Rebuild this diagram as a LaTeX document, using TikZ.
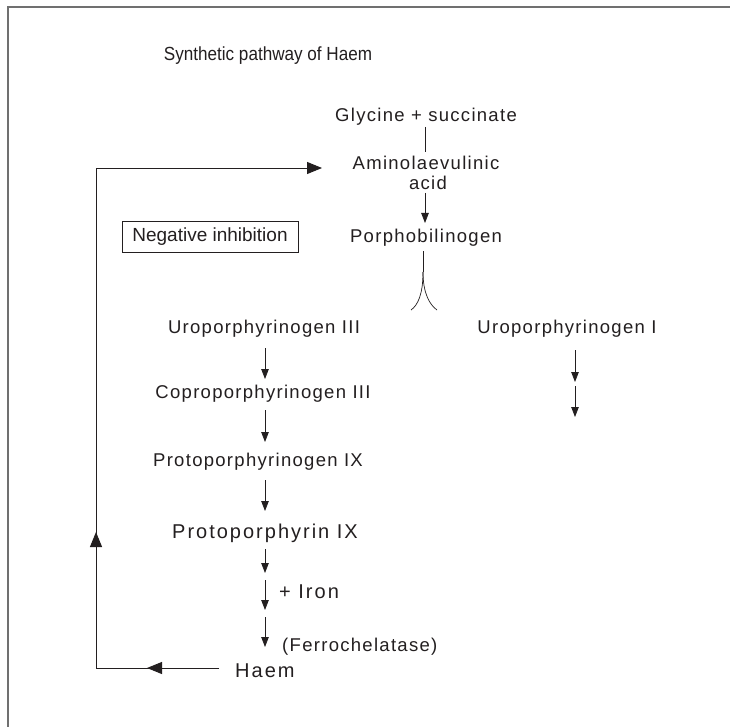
\documentclass[tikz,border=0pt]{standalone}
\usepackage{fontspec}
\setmainfont{Liberation Sans}
\newfontfamily\labfont[LetterSpace=7]{Liberation Sans}
\newfontfamily\widefont[LetterSpace=10]{Liberation Sans}
\newfontfamily\ttlfont[FakeStretch=0.9]{Liberation Sans}
\usetikzlibrary{arrows.meta}
\definecolor{ink}{HTML}{231F20}
\definecolor{framec}{HTML}{707070}
\begin{document}
\begin{tikzpicture}[x=1pt,y=-1pt,
  lab/.style={font={\labfont\fontsize{18.5}{21}\selectfont}, text=ink, inner sep=0pt, anchor=base},
  biglab/.style={font={\widefont\fontsize{20}{22}\selectfont}, text=ink, inner sep=0pt, anchor=base},
  ttl/.style={font={\ttlfont\fontsize{19}{21}\selectfont}, text=ink, inner sep=0pt, anchor=base},
  boxlab/.style={font={\fontsize{19}{21}\selectfont}, text=ink, draw=ink, line width=0.8pt, minimum width=176pt, minimum height=31pt, inner sep=0pt},
  ln/.style={draw=ink, line width=0.7pt},
  arr/.style={draw=ink, line width=0.8pt, -{Triangle[length=10pt,width=7.5pt]}},
  fb/.style={draw=ink, line width=0.95pt},
  fbarr/.style={draw=ink, line width=0.95pt, -{Triangle[length=15pt,width=12pt]}}]
\useasboundingbox (0,0) rectangle (730,727);
\fill[white] (0,0) rectangle (730,727);
% frame
\draw[framec, line width=1.5pt] (8,727) -- (8,7) -- (730,7);
% title
\node[ttl] (title) at (268,61) {Synthetic pathway of Haem};
% central column
\node[lab] (gly) at (426,122) {Glycine + succinate};
\node[lab] (ala) at (426,170) {Aminolaevulinic};
\node[lab] (acid) at (428,190) {acid};
\node[lab] (pbg) at (426,243) {Porphobilinogen};
\node[boxlab] (neg) at (210,236.5) {Negative inhibition};
% main chain
\node[lab] (u3) at (264,333) {Uroporphyrinogen III};
\node[lab] (c3) at (263,398) {Coproporphyrinogen III};
\node[lab] (p9g) at (258,466) {Protoporphyrinogen IX};
\node[biglab] (p9) at (265,538) {Protoporphyrin IX};
\node[biglab, anchor=base west] (iron) at (279,598) {+ Iron};
\node[lab, anchor=base west] (ferro) at (282,651) {(Ferrochelatase)};
\node[biglab, anchor=base west] (haem) at (235,677) {Haem};
% side chain
\node[lab] (u1) at (567,333) {Uroporphyrinogen I};
% connectors in the central column
\coordinate (g1) at (425,127);
\coordinate (g2) at (425,152);
\draw[ln] (g1) -- (g2);
\coordinate (b1) at (425,193);
\coordinate (b2) at (425,223);
\draw[arr] (b1) -- (b2);
% split under porphobilinogen
\coordinate (s0) at (423,251);
\coordinate (s1) at (423,272);
\coordinate (sl) at (411,310);
\coordinate (sr) at (437,310);
\draw[ln] (s0) -- (s1);
\draw[ln] (s1) .. controls (423,294) and (418,305) .. (sl);
\draw[ln] (s1) .. controls (423,294) and (430,305) .. (sr);
% main chain arrows
\coordinate (m1) at (265,348); \coordinate (m2) at (265,379);
\coordinate (m3) at (265,410); \coordinate (m4) at (265,442);
\coordinate (m5) at (265,480); \coordinate (m6) at (265,511);
\coordinate (m7) at (265,549); \coordinate (m8) at (265,573);
\coordinate (m9) at (265,580); \coordinate (m10) at (265,610);
\coordinate (m11) at (265,617); \coordinate (m12) at (265,647);
\draw[arr] (m1) -- (m2);
\draw[arr] (m3) -- (m4);
\draw[arr] (m5) -- (m6);
\draw[arr] (m7) -- (m8);
\draw[arr] (m9) -- (m10);
\draw[arr] (m11) -- (m12);
% side arrows
\coordinate (r1) at (575,350); \coordinate (r2) at (575,382);
\coordinate (r3) at (575,386); \coordinate (r4) at (575,417);
\draw[arr] (r1) -- (r2);
\draw[arr] (r3) -- (r4);
% feedback loop
\coordinate (f0) at (219,668);
\coordinate (f1) at (96,668);
\coordinate (f2) at (96,168);
\coordinate (f3) at (322,168);
\coordinate (fl) at (147,668);
\coordinate (fu) at (96,532);
\draw[fb] (f0) -- (f1) -- (f2);
\draw[fbarr] (f2) -- (f3);
\draw[fbarr] (f0) -- (fl);
\draw[fbarr] (f1) -- (fu);
\end{tikzpicture}
\end{document}
